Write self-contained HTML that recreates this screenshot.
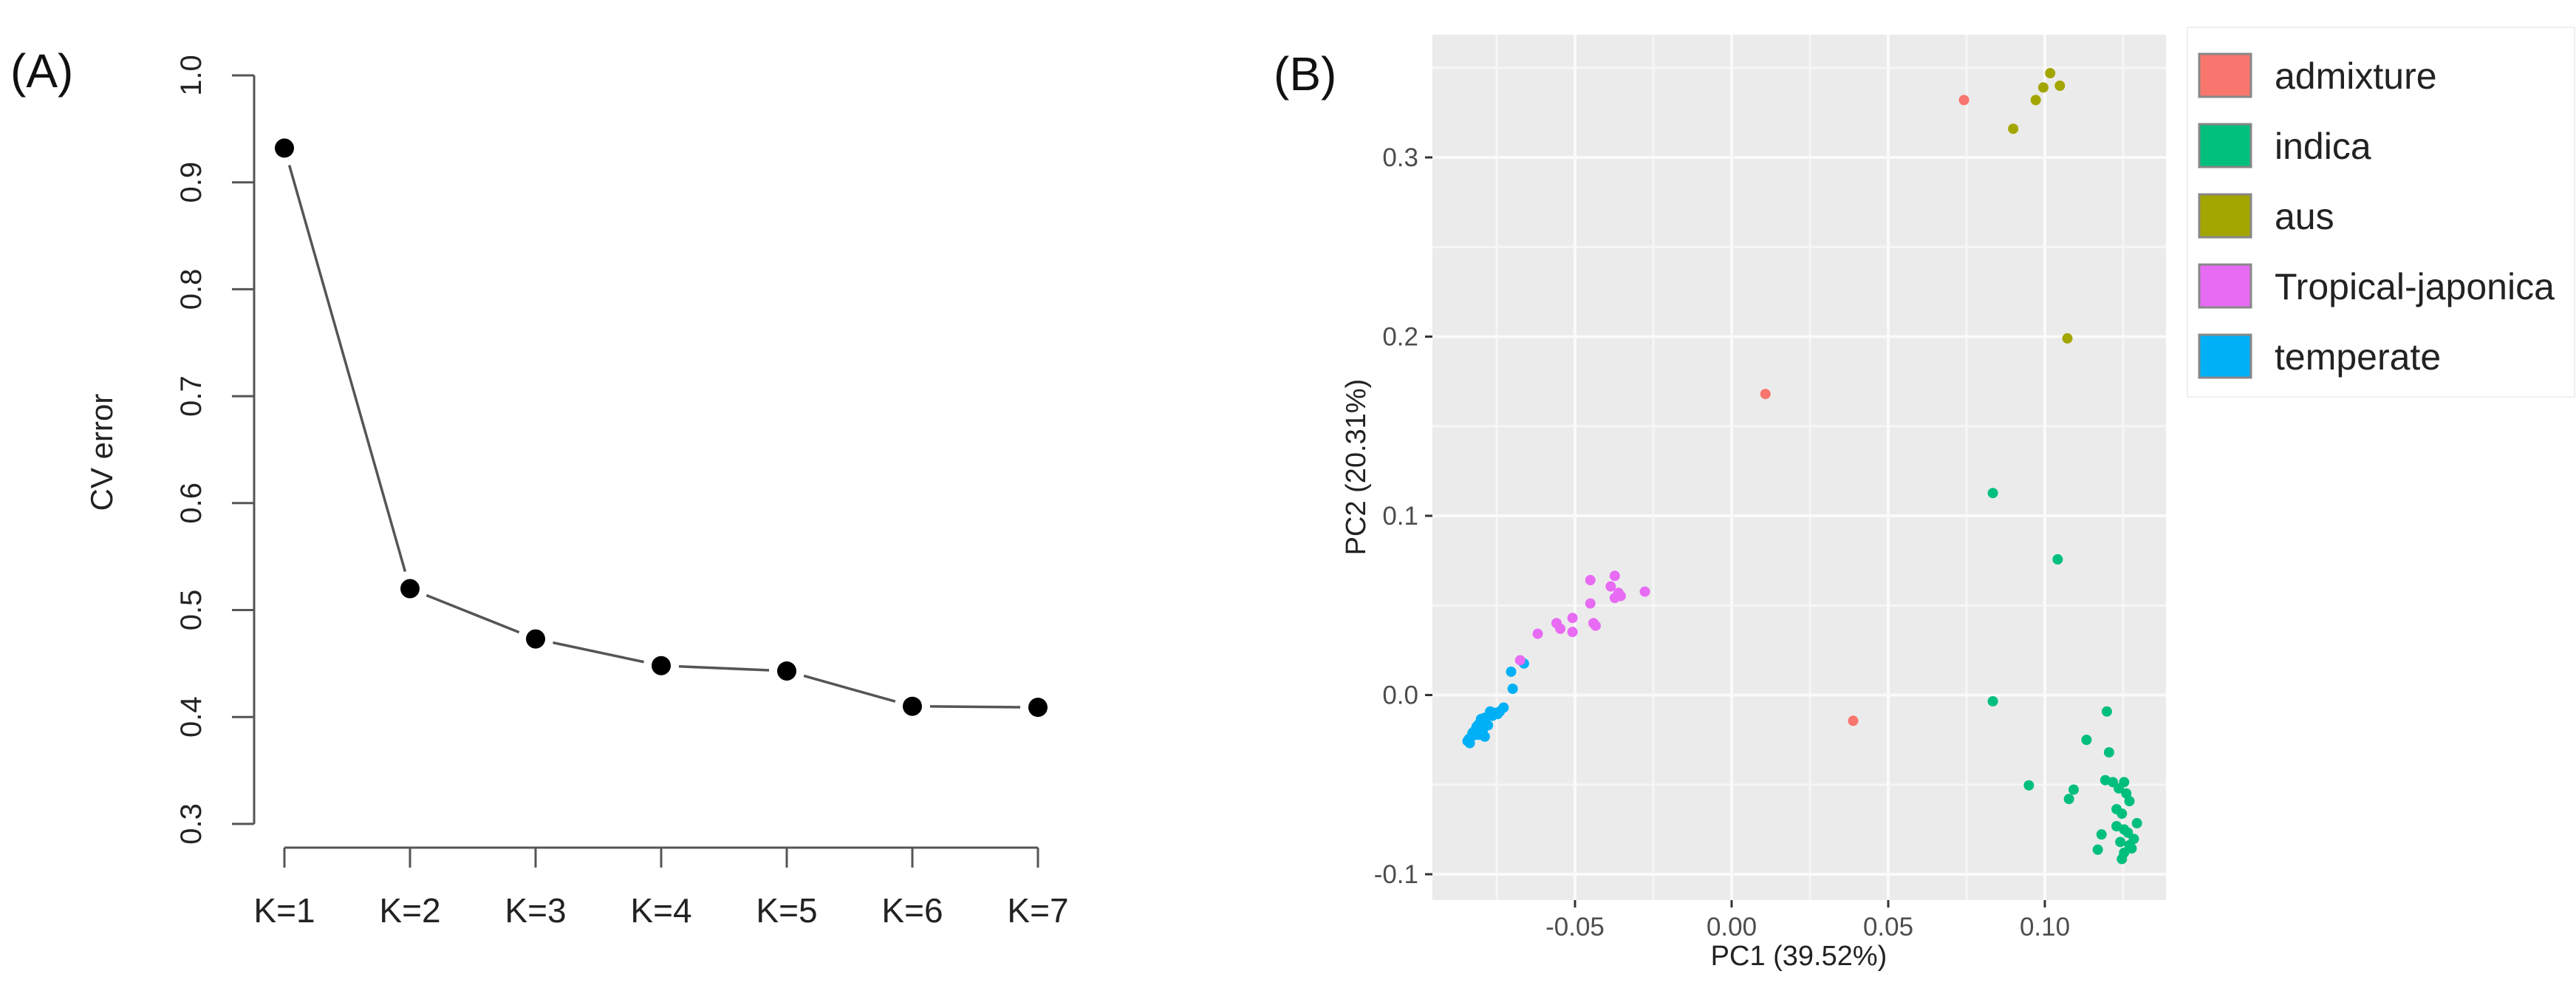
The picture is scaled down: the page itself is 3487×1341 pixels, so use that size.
<!DOCTYPE html>
<html><head><meta charset="utf-8"><style>
html,body{margin:0;padding:0;background:#fff;}
svg{display:block;font-family:"Liberation Sans",Arial,sans-serif;}
</style></head><body>
<svg id="fig" width="3487" height="1341" viewBox="0 0 3487 1341" xmlns="http://www.w3.org/2000/svg">
<text x="14" y="118" font-size="64" fill="#111">(A)</text>
<text x="1724" y="122" font-size="64" fill="#111">(B)</text>
<g id="cvChart"></g>
<g id="pcaChart"></g>
</svg>
<script>
const NS="http://www.w3.org/2000/svg";
// ---- Panel A data ----
const kLabels=["K=1","K=2","K=3","K=4","K=5","K=6","K=7"];
const cvErrors=[0.932,0.520,0.473,0.448,0.443,0.410,0.409];
const cvTicks=[0.3,0.4,0.5,0.6,0.7,0.8,0.9,1.0];
const cvTickLabels=["0.3","0.4","0.5","0.6","0.7","0.8","0.9","1.0"];
// ---- Panel B data ----
const groupNames=["admixture","indica","aus","Tropical-japonica","temperate"];
const admixPC1=[0.0742,0.0108,0.0388];
const admixPC2=[0.332,0.168,-0.0144];
const ausPC1=[0.1017,0.0995,0.1048,0.0971,0.0899,0.1072];
const ausPC2=[0.347,0.339,0.340,0.332,0.316,0.199];
const indicaPC1=[0.0834,0.1041,0.0834,0.1198,0.1133,0.1205,0.0949,0.1092,0.1077,0.1193,0.1217,0.1253,0.1236,0.126,0.127,0.1229,0.1246,0.1294,0.1229,0.1253,0.1181,0.1265,0.1284,0.1241,0.127,0.1169,0.1253,0.1277,0.1246];
const indicaPC2=[0.1127,0.0757,-0.0035,-0.0092,-0.025,-0.032,-0.0504,-0.0528,-0.058,-0.0475,-0.0486,-0.0486,-0.0521,-0.0549,-0.0592,-0.0637,-0.0662,-0.0715,-0.0732,-0.075,-0.0778,-0.0768,-0.0803,-0.082,-0.0838,-0.0863,-0.088,-0.0856,-0.0915];
const tropPC1=[-0.0451,-0.0373,-0.0386,-0.0361,-0.0373,-0.0277,-0.0451,-0.0508,-0.0559,-0.0547,-0.0508,-0.0619,-0.0434,-0.0441,-0.0675,-0.0354];
const tropPC2=[0.0641,0.0665,0.0606,0.057,0.0542,0.0577,0.0511,0.043,0.0401,0.037,0.0352,0.0342,0.0387,0.0401,0.0194,0.0553];
const tempPC1=[-0.0663,-0.0704,-0.0699,-0.0728,-0.074,-0.0759,-0.0771,-0.0788,-0.08,-0.0807,-0.0814,-0.0819,-0.0827,-0.0831,-0.0839,-0.0843,-0.0795,-0.0788,-0.0807,-0.0778,-0.0764,-0.0747,-0.0819,-0.0836];
const tempPC2=[0.0176,0.013,0.0035,-0.007,-0.0092,-0.0099,-0.0092,-0.0127,-0.0134,-0.0162,-0.0176,-0.0197,-0.0211,-0.0232,-0.0246,-0.0257,-0.0204,-0.0232,-0.0222,-0.0169,-0.0116,-0.0106,-0.0222,-0.0268];
const pc1Ticks=[-0.05,0.00,0.05,0.10];
const pc1TickLabels=["-0.05","0.00","0.05","0.10"];
const pc2Ticks=[-0.1,0.0,0.1,0.2,0.3];
const pc2TickLabels=["-0.1","0.0","0.1","0.2","0.3"];

function mk(parent,tag,attrs,text){const e=document.createElementNS(NS,tag);for(const k in attrs)e.setAttribute(k,attrs[k]);if(text!==undefined)e.textContent=text;parent.appendChild(e);return e;}

// ---- Panel A ----
(function(){
const g=document.getElementById('cvChart');
const yA=v=>102+(1.0-v)*1447;
const xA=i=>385+i*170;
const ax=mk(g,'line',{x1:344,y1:yA(1.0),x2:344,y2:yA(0.3),stroke:'#555','stroke-width':3});


cvTicks.forEach((t,i)=>{
  const tk=mk(g,'line',{x1:314,y1:yA(t),x2:344,y2:yA(t),stroke:'#555','stroke-width':3});
  
  
  const lb=mk(g,'text',{x:0,y:0,'font-size':40,fill:'#222','text-anchor':'middle',transform:`translate(272,${yA(t)}) rotate(-90)`},cvTickLabels[i]);
  
  
});
const yt=mk(g,'text',{x:0,y:0,'font-size':42,fill:'#222','text-anchor':'middle',transform:'translate(152,612) rotate(-90)'},'CV error');


const xl=mk(g,'line',{x1:xA(0),y1:1147,x2:xA(kLabels.length-1),y2:1147,stroke:'#555','stroke-width':3});


kLabels.forEach((k,i)=>{
  const tk=mk(g,'line',{x1:xA(i),y1:1147,x2:xA(i),y2:1174,stroke:'#555','stroke-width':3});
  
  
  const lb=mk(g,'text',{x:xA(i),y:1248,'font-size':46,fill:'#222','text-anchor':'middle'},k);
  
  
});
for(let i=0;i<cvErrors.length-1;i++){
  const x1=xA(i),y1=yA(cvErrors[i]),x2=xA(i+1),y2=yA(cvErrors[i+1]);
  const d=Math.hypot(x2-x1,y2-y1),gap=24,ux=(x2-x1)/d,uy=(y2-y1)/d;
  const s=mk(g,'line',{x1:x1+ux*gap,y1:y1+uy*gap,x2:x2-ux*gap,y2:y2-uy*gap,stroke:'#555','stroke-width':3.5});
  
  
}
cvErrors.forEach((v,i)=>{
  const c=mk(g,'circle',{cx:xA(i),cy:yA(v),r:13,fill:'#000'});
  
  
});
})();

// ---- Panel B ----
(function(){
const g=document.getElementById('pcaChart');
const L=1939,R=2932,T=47,B=1218;
const xB=v=>2344+v*4240;
const yB=v=>940.5-v*2425;
const bg=mk(g,'rect',{x:L,y:T,width:R-L,height:B-T,fill:'#ebebeb'});


for(let i=0;i<pc1Ticks.length+1;i++){
  const v=pc1Ticks[0]-0.025+i*0.05;const X=xB(v);
  if(X>L&&X<R){const l=mk(g,'line',{x1:X,y1:T,x2:X,y2:B,stroke:'#f6f6f6','stroke-width':3});
  
  }
}
for(let i=0;i<pc2Ticks.length+2;i++){
  const v=pc2Ticks[0]-0.05+i*0.1;const Y=yB(v);
  if(Y>T&&Y<B){const l=mk(g,'line',{x1:L,y1:Y,x2:R,y2:Y,stroke:'#f6f6f6','stroke-width':3});
  
  }
}
pc1Ticks.forEach((t,i)=>{
  const X=xB(t);
  const l=mk(g,'line',{x1:X,y1:T,x2:X,y2:B,stroke:'#fafafa','stroke-width':4});
  
  
  const tk=mk(g,'line',{x1:X,y1:B,x2:X,y2:B+10,stroke:'#333','stroke-width':3});
  
  
  const lb=mk(g,'text',{x:X,y:1266,'font-size':35,fill:'#4d4d4d','text-anchor':'middle'},pc1TickLabels[i]);
  
  
});
pc2Ticks.forEach((t,i)=>{
  const Y=yB(t);
  const l=mk(g,'line',{x1:L,y1:Y,x2:R,y2:Y,stroke:'#fafafa','stroke-width':4});
  
  
  const tk=mk(g,'line',{x1:L-10,y1:Y,x2:L,y2:Y,stroke:'#333','stroke-width':3});
  
  
  const lb=mk(g,'text',{x:1920,y:Y+12,'font-size':35,fill:'#4d4d4d','text-anchor':'end'},pc2TickLabels[i]);
  
  
});
const xt=mk(g,'text',{x:2435,y:1306,'font-size':38,fill:'#222','text-anchor':'middle'},'PC1 (39.52%)');


const yt=mk(g,'text',{x:0,y:0,'font-size':38,fill:'#222','text-anchor':'middle',transform:'translate(1848,632) rotate(-90)'},'PC2 (20.31%)');


const colors=["#F8766D","#00BF7D","#A3A500","#E76BF3","#00B0F6"];
const series=[[admixPC1,admixPC2,0],[tempPC1,tempPC2,4],[tropPC1,tropPC2,3],[ausPC1,ausPC2,2],[indicaPC1,indicaPC2,1]];
series.forEach(([xs,ys,ci])=>{
  xs.forEach((v,j)=>{
    const c=mk(g,'circle',{cx:xB(v),cy:yB(ys[j]),r:7,fill:colors[ci]});
    
    
  });
});
const lg=mk(g,'rect',{x:2961,y:37,width:524,height:500,fill:'#fff',stroke:'#f0f0f0','stroke-width':2});


groupNames.forEach((n,i)=>{
  const cy=102+i*95;
  const k=mk(g,'rect',{x:2977,y:cy-29,width:70,height:58,fill:colors[i],stroke:'#888','stroke-width':3});
  
  
  const t=mk(g,'text',{x:3079,y:cy+18,'font-size':50,fill:'#222'},n);
  
  
});
})();
</script>
</body></html>
